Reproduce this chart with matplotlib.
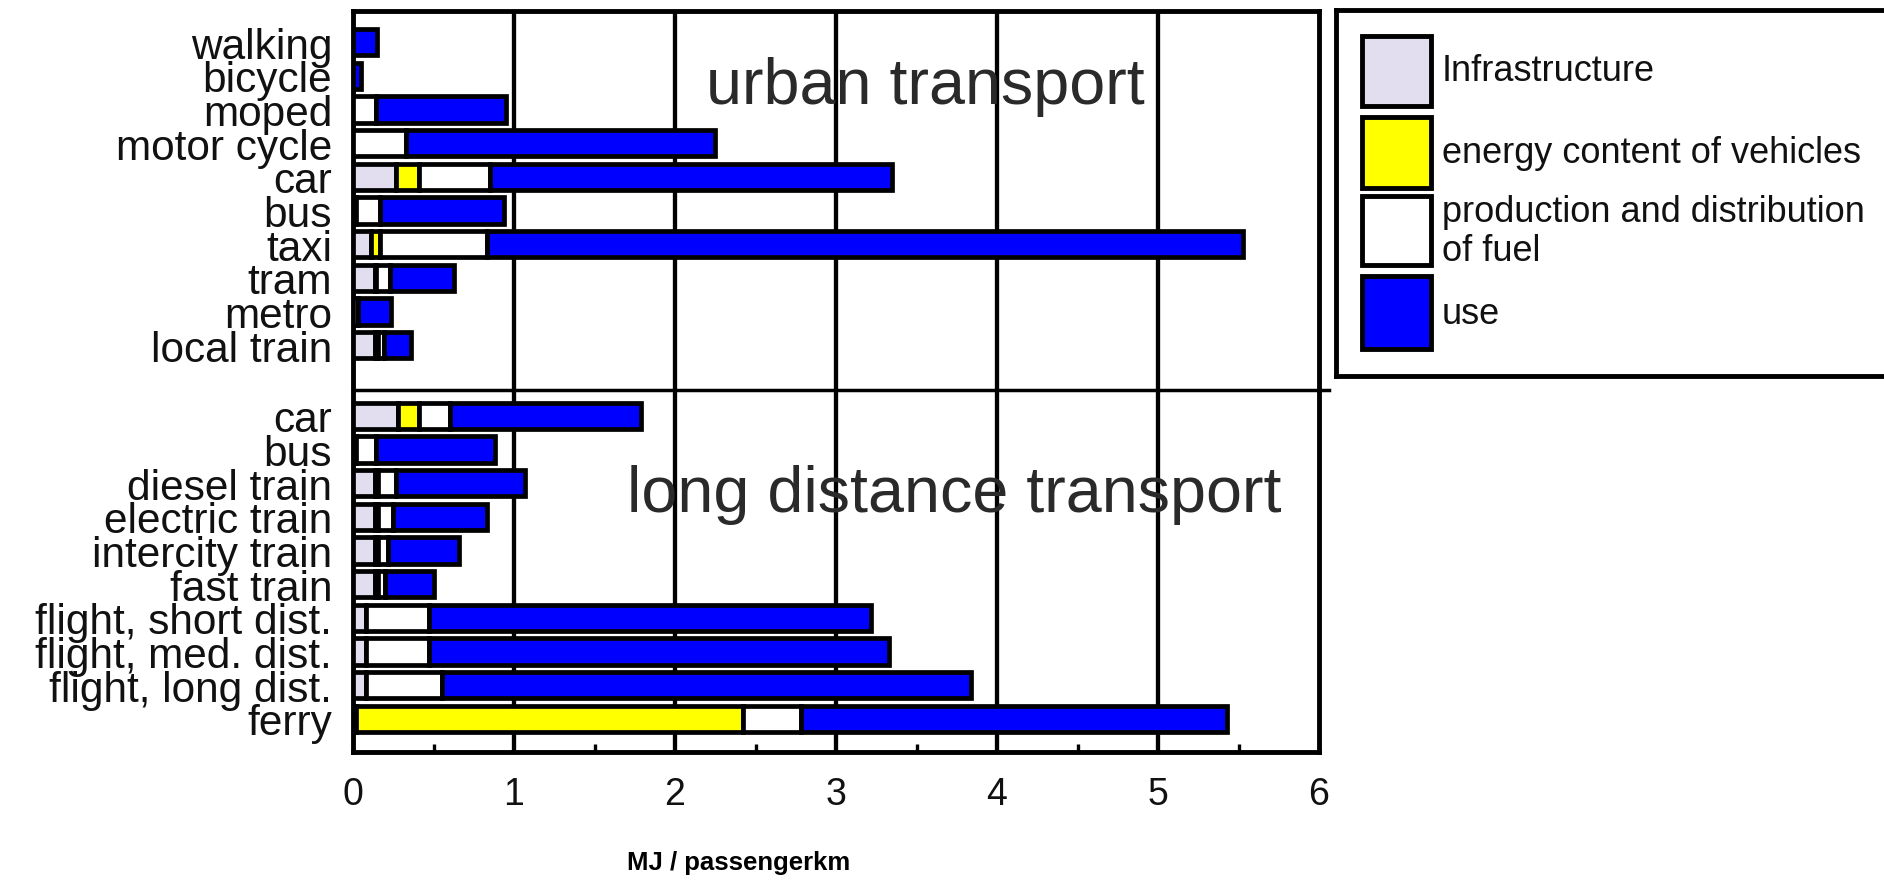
import numpy as np
import matplotlib
matplotlib.use('Agg')
import matplotlib.pyplot as plt
from matplotlib import font_manager
from matplotlib.patches import Rectangle
from matplotlib.ticker import MultipleLocator

plt.rcParams['font.family'] = ['Liberation Sans', 'DejaVu Sans']

# narrow face for the axis numbers and title, if it is there
try:
    font_manager.findfont('Liberation Sans Narrow', fallback_to_default=False)
    narrow = ['Liberation Sans Narrow', 'Liberation Sans']
    num_size, xlab_size = 29, 21
except ValueError:
    narrow = ['Liberation Sans', 'DejaVu Sans']
    num_size, xlab_size = 27, 18.5

# rows, top to bottom
urban_labels = ['walking', 'bicycle', 'moped', 'motor cycle', 'car', 'bus',
                'taxi', 'tram', 'metro', 'local train']
long_labels = ['car', 'bus', 'diesel train', 'electric train', 'intercity train',
               'fast train', 'flight, short dist.', 'flight, med. dist.',
               'flight, long dist.', 'ferry']

# MJ / passengerkm per component
urban_infra = [0, 0, 0, 0, 0.27, 0.02, 0.11, 0.135, 0.03, 0.135]
urban_energy = [0, 0, 0, 0, 0.14, 0, 0.06, 0.01, 0, 0.02]
urban_fuel = [0, 0, 0.14, 0.33, 0.44, 0.15, 0.66, 0.085, 0, 0.035]
urban_use = [0.15, 0.05, 0.81, 1.92, 2.50, 0.77, 4.70, 0.40, 0.205, 0.17]

long_infra = [0.28, 0.02, 0.135, 0.135, 0.135, 0.135, 0.08, 0.08, 0.08, 0.02]
long_energy = [0.13, 0, 0.02, 0.02, 0.02, 0.02, 0, 0, 0, 2.40]
long_fuel = [0.19, 0.12, 0.115, 0.095, 0.065, 0.045, 0.39, 0.39, 0.47, 0.36]
long_use = [1.19, 0.74, 0.80, 0.58, 0.44, 0.30, 2.75, 2.86, 3.29, 2.65]

components = ['Infrastructure', 'energy content of vehicles',
              'production and distribution', 'of fuel', 'use']
colors = ['#e2def0', '#ffff00', '#ffffff', '#0000ff']

W, H = 1884, 887
fig = plt.figure(figsize=(W / 100, H / 100), dpi=100)
ax = fig.add_axes([353 / W, 1 - 753 / H, (1319 - 353) / W, (753 - 12) / H])

pos = np.concatenate([np.arange(10), np.arange(10) + 11.1])
labels = urban_labels + long_labels
series = [np.array(urban_infra + long_infra),
          np.array(urban_energy + long_energy),
          np.array(urban_fuel + long_fuel),
          np.array(urban_use + long_use)]

left = np.zeros(len(pos))
for vals, col in zip(series, colors):
    m = vals > 0
    ax.barh(pos[m], vals[m], left=left[m], height=0.78, color=col,
            edgecolor='black', linewidth=3.4, zorder=3)
    left = left + vals

for x in range(1, 6):
    ax.axvline(x, color='black', lw=3.1, zorder=1)

ax.plot([0, 1.01], [10.33, 10.33], transform=ax.get_yaxis_transform(),
        color='black', lw=2.5, clip_on=False, zorder=4)

ax.set_xlim(0, 6)
ax.set_ylim(21.09, -0.93)
ax.set_yticks(pos)
ax.set_yticklabels(labels, fontsize=30.5, color='#111111')
ax.set_xticks(range(7))
ax.set_xticklabels([str(i) for i in range(7)], fontsize=num_size,
                   color='#111111', family=narrow)
ax.xaxis.set_minor_locator(MultipleLocator(0.5))
ax.tick_params(axis='x', which='major', length=0, pad=17)
ax.tick_params(axis='x', which='minor', direction='in', length=6, width=2.4)
ax.tick_params(axis='y', length=0, pad=15)
for s in ax.spines.values():
    s.set_linewidth(3.5)

ax.text(2.19, 1.81, 'urban transport', fontsize=46.5, va='baseline',
        color='#2a2a2a', zorder=5)
ax.text(1.70, 13.93, 'long distance transport', fontsize=46.5, va='baseline',
        color='#2a2a2a', zorder=5)

fig.text(739 / W, 1 - 863 / H, 'MJ / passengerkm', ha='center', va='center',
         fontsize=xlab_size, fontweight='bold', family=narrow)

# legend box, cut by the right edge of the picture
lax = fig.add_axes([1336 / W, 1 - 377 / H, 600 / W, (377 - 11) / H])
lax.set_xlim(1336, 1936)
lax.set_ylim(377, 11)
lax.set_xticks([])
lax.set_yticks([])
for s in lax.spines.values():
    s.set_linewidth(3.5)

boxes = [(37, 70), (118, 71), (197, 69), (277, 73)]
for (y0, h), col in zip(boxes, colors):
    lax.add_patch(Rectangle((1362, y0), 69, h, facecolor=col,
                            edgecolor='black', lw=3.5))

label_y = [72, 154, 213, 252, 315]
for txt, y in zip(components, label_y):
    lax.text(1442, y, txt, fontsize=26, va='center', color='#111111')

fig.savefig('out.png', dpi=100)
